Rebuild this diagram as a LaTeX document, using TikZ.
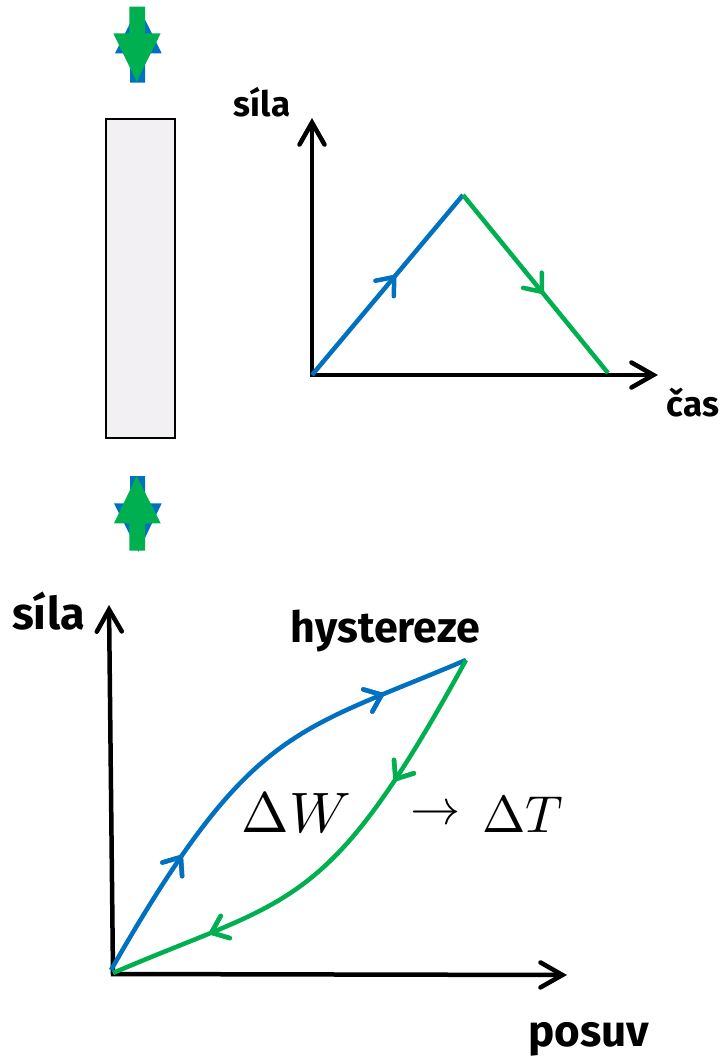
\documentclass[tikz,border=0pt]{standalone}
\usepackage{fontspec}
\usepackage{unicode-math}
\setmainfont{Fira Sans}
\setmathfont{Latin Modern Math}
\usetikzlibrary{arrows.meta,decorations.markings}
\definecolor{cblue}{HTML}{0070C0}
\definecolor{cgreen}{HTML}{00B050}
\definecolor{cbox}{HTML}{F2F0F2}
\tikzset{
  axis/.style={line width=4.5pt,line join=miter,{Straight Barb[length=22pt,width=25pt,line cap=round]}-{Straight Barb[length=22pt,width=25pt,line cap=round]}},
  curve/.style={line width=4.5pt,line cap=butt},
  midarrow/.style={postaction={decorate},decoration={markings,mark=at position #1 with {\arrow[line width=4.5pt]{Straight Barb[length=15pt,width=24pt,line cap=round]}}}},
  lbl/.style={inner sep=0pt,anchor=base},
}
\newcommand{\lblfont}[1]{\bfseries\fontsize{#1}{#1}\selectfont}
\begin{document}
\begin{tikzpicture}[x=1pt,y=-1pt]
\useasboundingbox (0,0) rectangle (728,1058);
% top force arrows
\fill[cblue] (130,82.7) -- (130,53.3) -- (115,53.3) -- (138.5,6.5) -- (161.7,53.3) -- (145,53.3) -- (145,82.7) -- cycle;
\fill[cgreen] (129.3,6.7) -- (145,6.7) -- (145,33.3) -- (160.7,33.3) -- (136.7,81.7) -- (113.3,33.3) -- (129.3,33.3) -- cycle;
% bottom force arrows
\fill[cblue] (130,476) -- (145,476) -- (145,503.3) -- (161.7,503.3) -- (138.3,551.7) -- (114,503.3) -- (130,503.3) -- cycle;
\fill[cgreen] (129.3,550.7) -- (129.3,523.3) -- (114,523.3) -- (136.7,476) -- (160.7,523.3) -- (145,523.3) -- (145,550.7) -- cycle;
% specimen
\node[draw=black,line width=1.5pt,fill=cbox,minimum width=69pt,minimum height=319pt,inner sep=0pt] (spec) at (140.5,278.5) {};
% top graph
\coordinate (o1) at (312,375);
\coordinate (y1) at (312,118);
\coordinate (x1) at (658,375);
\coordinate (p1) at (463,195);
\coordinate (e1) at (608,373);
\draw[axis] (y1) -- (o1) -- (x1);
\draw[curve,cblue,midarrow=0.56] (o1) -- (p1);
\draw[curve,cgreen,midarrow=0.56] (p1) -- (e1);
\node[lbl,font=\lblfont{35}] (sila1) at (262,116.7) {síla};
\node[lbl,font=\lblfont{35}] (cas) at (693,416) {čas};
% bottom graph
\coordinate (o2) at (113,974);
\coordinate (y2) at (109,605);
\coordinate (x2) at (567,975);
\coordinate (b0) at (111,970);
\coordinate (pk) at (466,660);
\coordinate (g0) at (113,973);
\draw[axis] (y2) -- (o2) -- (x2);
\draw[curve,cblue,midarrow=0.28,midarrow=0.82] (b0) .. controls (251,725) and (295,733) .. (pk);
\draw[curve,cgreen,midarrow=0.29,midarrow=0.79] (pk) .. controls (327,914) and (293,895.6) .. (g0);
\node[lbl,font=\lblfont{45}] (sila2) at (48.5,629.3) {síla};
\node[lbl,font=\lblfont{43}] (hyst) at (385.5,642) {hystereze};
\node[lbl,font=\lblfont{44}] (posuv) at (589,1046) {posuv};
\node[inner sep=0pt,anchor=base] (dw) at (296,832) {\fontsize{57}{57}\selectfont$\Delta W$};
\node[inner sep=0pt] (arr) at (435,812) {\fontsize{50}{50}\selectfont$\rightarrow$};
\node[inner sep=0pt,anchor=base west] (dt) at (482,832) {\fontsize{52}{52}\selectfont$\Delta T$};
\end{tikzpicture}
\end{document}
